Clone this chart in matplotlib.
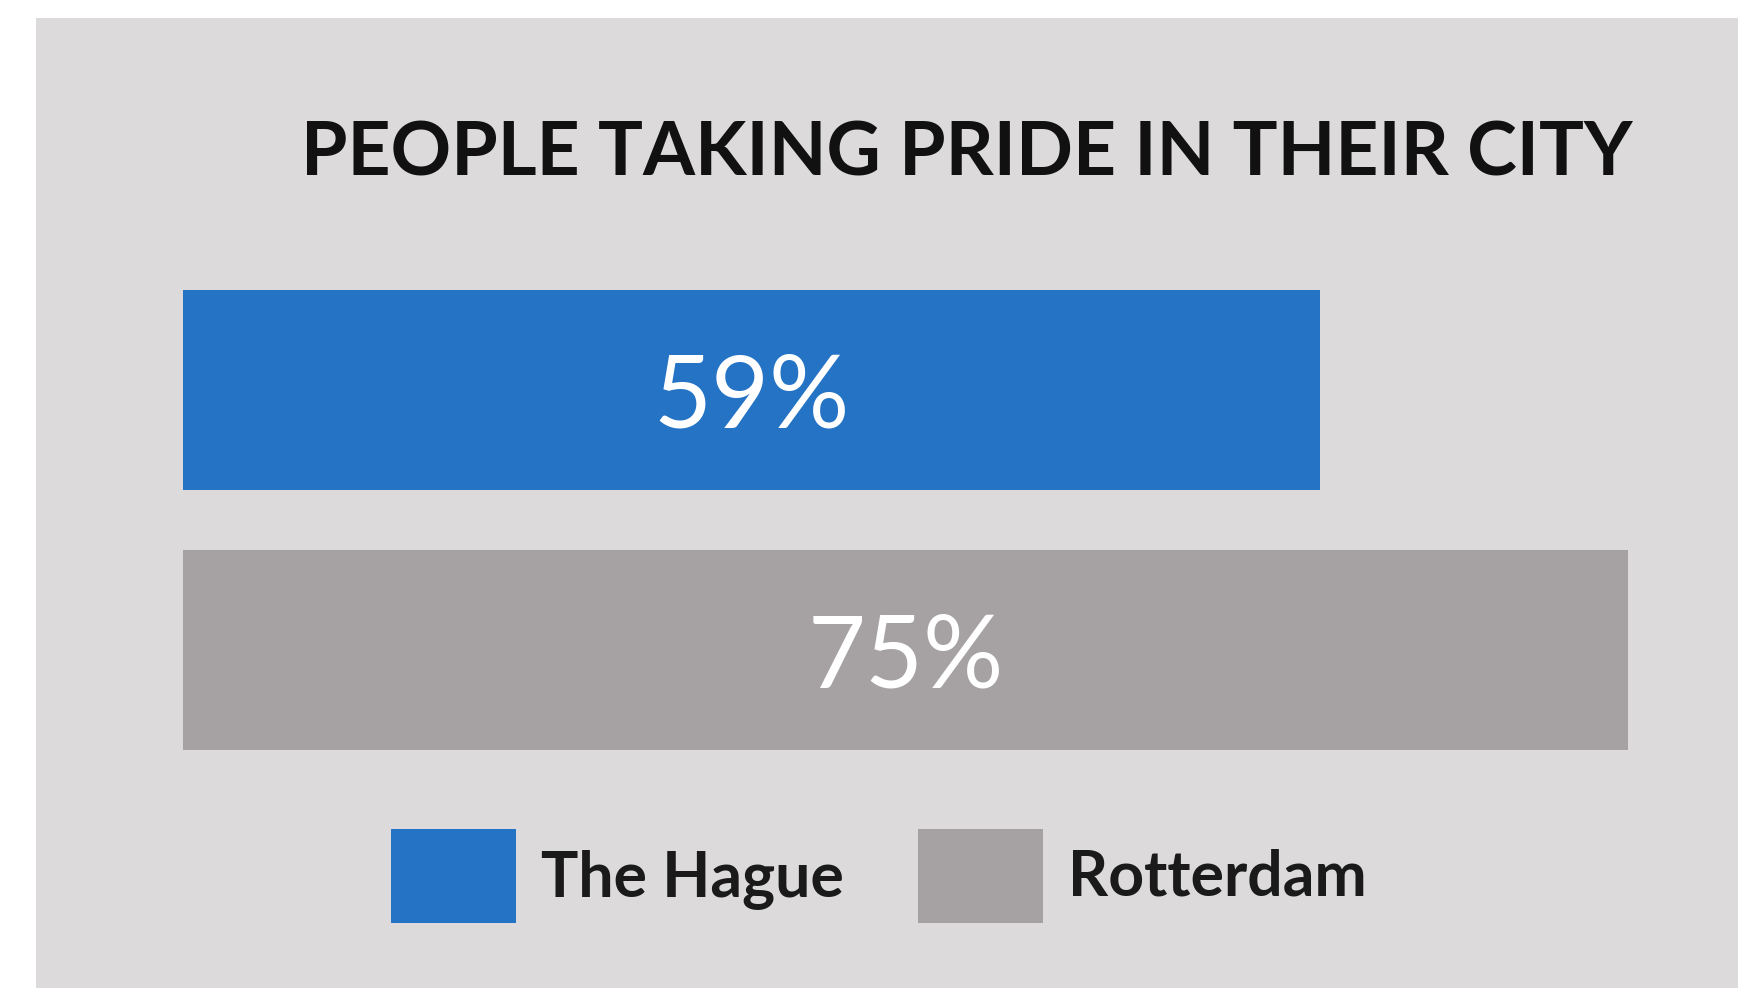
import matplotlib
matplotlib.use("Agg")
import matplotlib.pyplot as plt
from matplotlib.patches import Rectangle, Patch

# Data
cities = ["The Hague", "Rotterdam"]
values = [59, 75]
labels = ["59%", "75%"]
colors = ["#2473c4", "#a6a2a3"]
title = "PEOPLE TAKING PRIDE IN THEIR CITY"

W, H = 1738, 988
fig = plt.figure(figsize=(W / 100, H / 100), dpi=100, facecolor="white")
plt.rcParams["font.family"] = ["Lato", "DejaVu Sans"]

# gray panel background
fig.patches.append(Rectangle((36 / W, 0), 1 - 36 / W, 1 - 18 / H,
                             transform=fig.transFigure, facecolor="#dcdadb",
                             edgecolor="none", zorder=-5))

left, right = 183, 1628
top, bottom = 290, 750
ax = fig.add_axes([left / W, 1 - bottom / H, (right - left) / W, (bottom - top) / H])
ax.set_zorder(2)
ax.set_facecolor("none")
ax.set_xlim(0, 75)
h = 200 / 260
ax.set_ylim(1 + h / 2, -h / 2)
ypos = list(range(len(cities)))
bars = ax.barh(ypos, values, height=h, color=colors)
for y, v, lab in zip(ypos, values, labels):
    ax.text(v / 2, y, lab, ha="center", va="center_baseline", color="white",
            fontsize=72, fontweight="normal")
ax.axis("off")

fig.text(967 / W, 1 - 147 / H, title, ha="center", va="center_baseline",
         fontsize=54, fontweight="bold", color="#111111", zorder=3)

fs = 45
px = fs / 0.72
handles = [Patch(facecolor=c, edgecolor="none") for c in colors]
leg = fig.legend(handles, cities, loc="center left",
                 bbox_to_anchor=(391 / W, 1 - 876 / H), ncol=2, frameon=False,
                 borderpad=0, borderaxespad=0,
                 handlelength=125 / px, handleheight=1.22 * 100 / px,
                 handletextpad=25 / px, columnspacing=74 / px,
                 prop={"weight": "bold", "size": fs, "family": ["Lato", "DejaVu Sans"]})
leg.set_zorder(3)
for t in leg.get_texts():
    t.set_color("#1a1a1a")

fig.savefig("out.png", dpi=100, facecolor="white")
